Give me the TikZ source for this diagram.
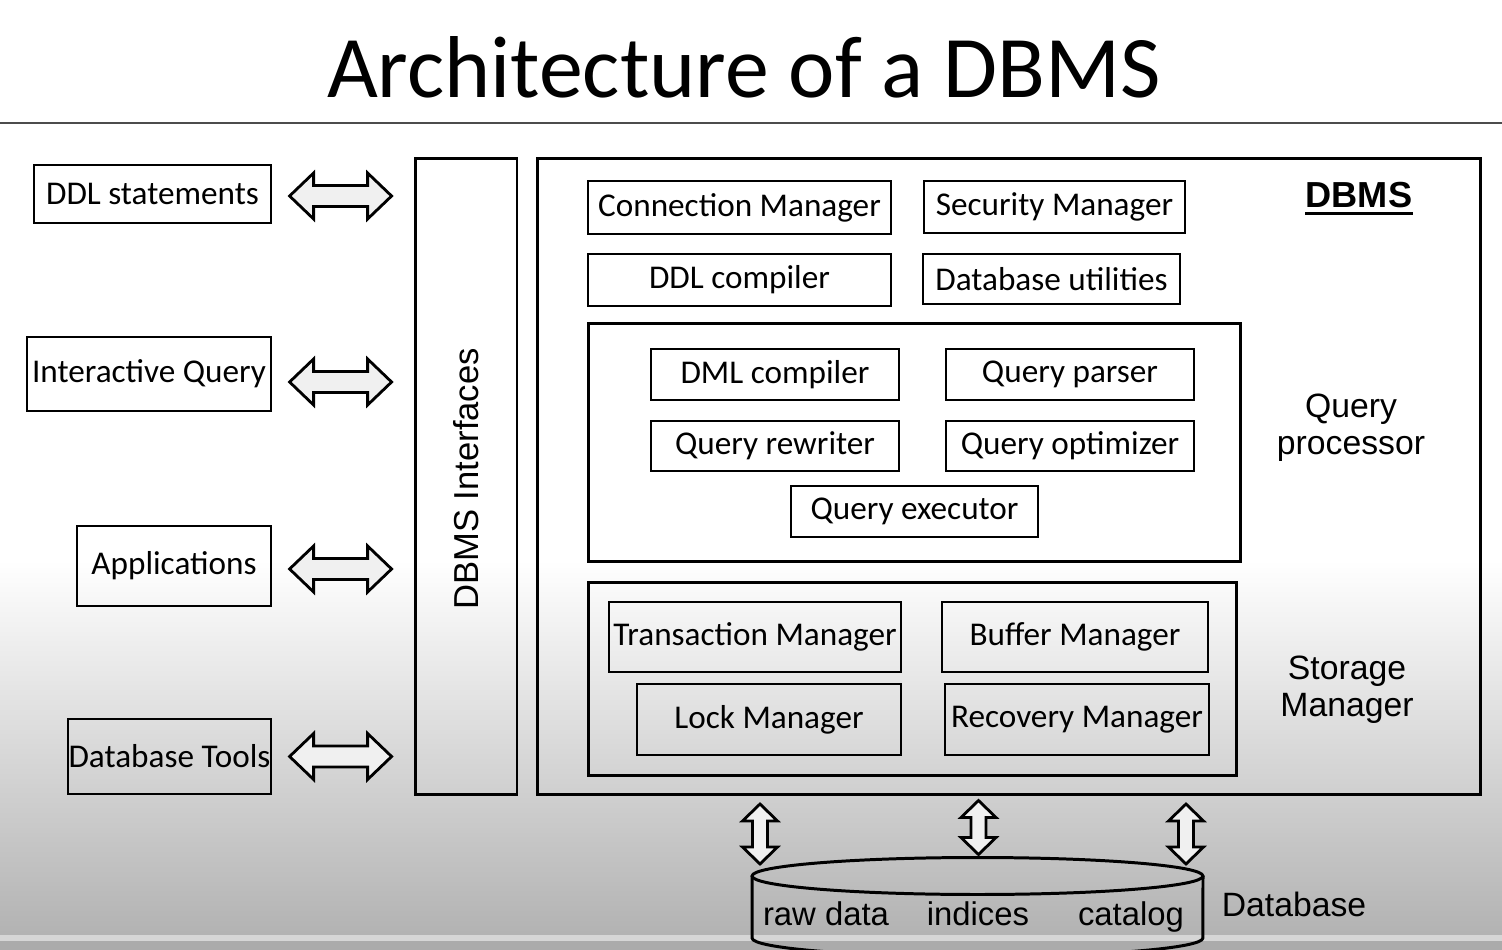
\documentclass[tikz,border=0pt]{standalone}
\usepackage{fontspec}
\setmainfont{Carlito}
\newfontfamily\arialfont{Liberation Sans}
\usetikzlibrary{calc}
\begin{document}
\begin{tikzpicture}[x=0.02cm,y=-0.02cm,
	box/.style={draw,line width=0.8pt,inner sep=0pt,font=\fontsize{18.9}{22}\selectfont},
	frame/.style={draw,line width=1.7pt,inner sep=0pt},
	lbl/.style={align=center,font=\arialfont\fontsize{19.2}{21}\selectfont},
	arrowline/.style={draw,line width=1.6pt,fill=black!6,line join=miter},
	pics/hdbl/.style={code={\path[arrowline] (-51,0)--(-27,-23)--(-27,-10.5)--(27,-10.5)--(27,-23)--(51,0)--(27,23)--(27,10.5)--(-27,10.5)--(-27,23)--cycle;}},
	pics/vdbl/.style={code={\path[arrowline] (0,-#1)--(17.5,{-#1+17})--(7.5,{-#1+17})--(7.5,{#1-17})--(17.5,{#1-17})--(0,#1)--(-17.5,{#1-17})--(-7.5,{#1-17})--(-7.5,{-#1+17})--(-17.5,{-#1+17})--cycle;}}]
		\useasboundingbox (0,0) rectangle (1502,950);
		\fill[white] (0,0) rectangle (1502,950);
		\shade[top color=white,bottom color=black!30] (0,560) rectangle (1502,935);
		\fill[black!16] (0,935) rectangle (1502,941);
		\fill[black!33] (0,941) rectangle (1502,950);
		% title
		\node[anchor=base,font=\fontsize{50}{60}\selectfont] (title) at (744,97) {Architecture of a DBMS};
		\draw[line width=1.1pt,color=black!70] (0,123)--(1502,123);
		% left side
		\node[box,minimum width=4.74cm,minimum height=1.16cm] (ddl) at (152.5,194) {DDL statements};
		\node[box,minimum width=4.88cm,minimum height=1.48cm] (iq) at (149,374) {Interactive Query};
		\node[box,minimum width=3.88cm,minimum height=1.6cm] (app) at (174,566) {Applications};
		\node[box,minimum width=4.06cm,minimum height=1.5cm] (tools) at (169.5,756.5) {Database Tools};
		\node[frame,minimum width=2.04cm,minimum height=12.74cm] (ifc) at (466,476.5) {};
		\node[lbl,rotate=90,font=\arialfont\fontsize{19.7}{22}\selectfont] (ifclbl) at (466,479) {DBMS Interfaces};
		\coordinate (ddle) at ([yshift=-0.04cm]ddl.east);
		\coordinate (iqe) at ([yshift=-0.16cm]iq.east);
		\coordinate (appe) at ([yshift=-0.06cm]app.east);
		\path (ddle) -- (ifc.west |- ddle) coordinate[midway] (a1);
		\path (iqe) -- (ifc.west |- iqe) coordinate[midway] (a2);
		\path (appe) -- (ifc.west |- appe) coordinate[midway] (a3);
		\path (tools.east) -- (ifc.west |- tools.east) coordinate[midway] (a4);
		\foreach \a in {a1,a2,a3,a4} \pic at ([xshift=-0.04cm]\a) {hdbl};
		% DBMS
		\node[frame,minimum width=18.88cm,minimum height=12.74cm] (dbms) at (1009,476.5) {};
		\node[inner sep=0pt,font=\arialfont\bfseries\fontsize{20.6}{24}\selectfont] (dbmslbl) at (1359,195) {DBMS};
		\draw[line width=1.6pt] ([yshift=-0.11cm]dbmslbl.south west)--([yshift=-0.11cm]dbmslbl.south east);
		\node[box,minimum width=6.06cm,minimum height=1.06cm] (conn) at (739.5,207.5) {Connection Manager};
		\node[box,minimum width=5.22cm,minimum height=1.04cm] (sec) at (1054.5,207) {Security Manager};
		\node[box,minimum width=6.06cm,minimum height=1.04cm] (ddlc) at (739.5,280) {DDL compiler};
		\node[box,minimum width=5.14cm,minimum height=1.0cm] (util) at (1051.5,279) {Database utilities};
		% query processor
		\node[frame,minimum width=13.06cm,minimum height=4.78cm] (qp) at (914.5,442.5) {};
		\node[lbl] (qplbl) at (1351,428) {Query\\processor};
		\node[box,minimum width=4.96cm,minimum height=1.02cm] (dml) at (775,374.5) {DML compiler};
		\node[box,minimum width=4.96cm,minimum height=1.02cm] (parser) at (1070,374.5) {Query parser};
		\node[box,minimum width=4.96cm,minimum height=1.0cm] (rewriter) at (775,446) {Query rewriter};
		\node[box,minimum width=4.96cm,minimum height=1.0cm] (optimizer) at (1070,446) {Query optimizer};
		\node[box,minimum width=4.94cm,minimum height=1.02cm] (executor) at (914.5,511.5) {Query executor};
		% storage manager
		\node[frame,minimum width=12.98cm,minimum height=3.88cm] (sm) at (912.5,679) {};
		\node[lbl] (smlbl) at (1347,690) {Storage\\Manager};
		\node[box,minimum width=5.84cm,minimum height=1.4cm] (trans) at (755,637) {Transaction Manager};
		\node[box,minimum width=5.32cm,minimum height=1.4cm] (buffer) at (1075,637) {Buffer Manager};
		\node[box,minimum width=5.28cm,minimum height=1.42cm] (lock) at (769,719.5) {Lock Manager};
		\node[box,minimum width=5.28cm,minimum height=1.42cm] (recovery) at (1077,719.5) {Recovery Manager};
		% database
		\draw[line width=1.7pt] (977.5,876) ellipse [x radius=4.51cm,y radius=0.37cm];
		\draw[line width=1.7pt] (752,876)--(752,938) arc[start angle=180,end angle=360,x radius=4.51cm,y radius=0.37cm]--(1203,876);
		\node[lbl,anchor=base,font=\arialfont\fontsize{18.7}{21}\selectfont] (raw) at (826,925) {raw data};
		\node[lbl,anchor=base,font=\arialfont\fontsize{18.7}{21}\selectfont] (idx) at (978,925) {indices};
		\node[lbl,anchor=base,font=\arialfont\fontsize{18.7}{21}\selectfont] (cat) at (1131,925) {catalog};
		\node[lbl] (dblbl) at (1294,904) {Database};
		\pic at (760,834) {vdbl=30};
		\pic at (978.5,827.5) {vdbl=27};
		\pic at (1186,834) {vdbl=30};
\end{tikzpicture}
\end{document}
